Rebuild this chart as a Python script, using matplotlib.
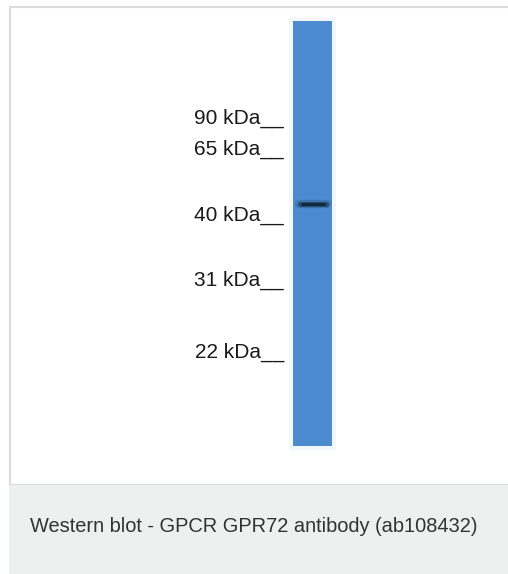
import matplotlib.pyplot as plt
from matplotlib.patches import Rectangle

# ladder markers (kDa) and where they sit on the gel (px from top, text baseline)
ladder_kda = [90, 65, 40, 31, 22]
ladder_pos = [124, 155, 221, 286, 358]

# the single detected band
band_pos = [204]
band_strength = [1.0]

caption = "Western blot - GPCR GPR72 antibody (ab108432)"

plt.rcParams['font.family'] = ['Liberation Sans', 'DejaVu Sans']

fig = plt.figure(figsize=(5.08, 5.74), dpi=100)
ax = fig.add_axes([0, 0, 1, 1])
ax.set_xlim(0, 508)
ax.set_ylim(574, 0)
ax.axis('off')

# panel frame and caption strip
ax.add_patch(Rectangle((9.5, 6.5), 520, 478, facecolor='white', edgecolor='#dcdcdc', lw=1.5))
ax.add_patch(Rectangle((9, 485), 520, 95, facecolor='#eeefef', edgecolor='none'))
ax.text(30, 526, caption, fontsize=14.4, color='#333333', va='center', ha='left')

# lane
lane_x, lane_w = 293, 39
lane_top, lane_bot = 21, 446
ax.add_patch(Rectangle((lane_x - 4, lane_top - 4), lane_w + 8, lane_bot - lane_top + 8,
                       facecolor='#f3f7fb', edgecolor='none'))
ax.add_patch(Rectangle((lane_x, lane_top), lane_w, lane_bot - lane_top,
                       facecolor='#4c8bcf', edgecolor='none'))

# band (soft halo + dark core)
for pos, s in zip(band_pos, band_strength):
    ax.plot([lane_x + 6, lane_x + lane_w - 5], [pos, pos], color='#2b5a86', lw=6,
            alpha=0.35 * s, solid_capstyle='round')
    ax.plot([lane_x + 7, lane_x + lane_w - 6], [pos, pos], color='#1f3d5a', lw=3.8,
            alpha=0.7 * s, solid_capstyle='round')
    ax.plot([lane_x + 9, lane_x + lane_w - 8], [pos, pos], color='#10263a', lw=2,
            alpha=s, solid_capstyle='round')

# ladder labels
for kda, pos in zip(ladder_kda, ladder_pos):
    ax.text(284, pos, f"{kda} kDa__", fontsize=15, color='#1a1a1a',
            ha='right', va='baseline')

fig.savefig('out.png', dpi=100)
